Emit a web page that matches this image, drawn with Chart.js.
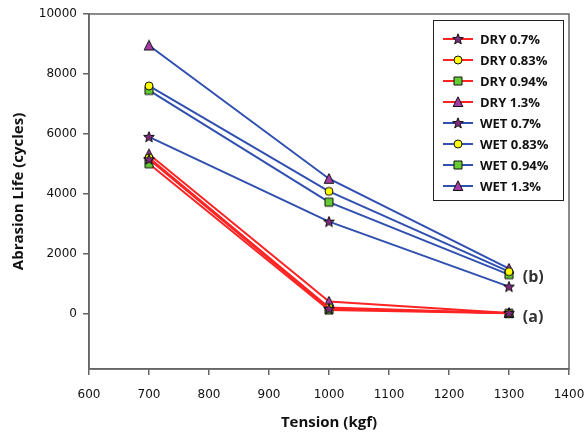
<!DOCTYPE html>
<html>
<head>
<meta charset="utf-8">
<script src="https://cdn.jsdelivr.net/npm/chart.js@4/dist/chart.umd.min.js"></script>
<style>
    html, body { margin: 0; padding: 0; background: #fff; }
</style>
</head>
<body>
<canvas id="abrasionChart" width="587" height="436"></canvas>
<script>
// ========= data =========
const tensions = [700, 1000, 1300];

const seriesLabels = [
    "DRY 0.7%", "DRY 0.83%", "DRY 0.94%", "DRY 1.3%",
    "WET 0.7%", "WET 0.83%", "WET 0.94%", "WET 1.3%"
];

const dry07  = [5150, 160, 20];
const dry083 = [5200, 200, 10];
const dry094 = [5000, 120, 10];
const dry13  = [5320, 400, 20];

const wet07  = [5900, 3070, 900];
const wet083 = [7600, 4080, 1400];
const wet094 = [7450, 3720, 1300];
const wet13  = [8950, 4500, 1500];

const seriesValues = [dry07, dry083, dry094, dry13, wet07, wet083, wet094, wet13];

const yTickValues = [0, 2000, 4000, 6000, 8000, 10000];

const noteLabels = ["(b)", "(a)"];
const noteX      = [1323, 1323];
const noteY      = [1220, -120];

// ========= marker images =========
function makeMarker(kind) {
    const c = document.createElement("canvas");
    c.width = 12;
    c.height = 12;
    const g = c.getContext("2d");
    g.lineWidth = 1;
    g.strokeStyle = "#111";
    g.beginPath();
    if (kind === "star") {
        for (let i = 0; i < 10; i++) {
            const r = i % 2 === 0 ? 5.6 : 2.4;
            const a = -Math.PI / 2 + i * Math.PI / 5;
            const px = 6 + r * Math.cos(a);
            const py = 6.4 + r * Math.sin(a);
            if (i === 0) g.moveTo(px, py); else g.lineTo(px, py);
        }
        g.closePath();
        g.fillStyle = "#7a2a7a";
    } else if (kind === "circle") {
        g.arc(6, 6, 4, 0, Math.PI * 2);
        g.fillStyle = "#ffff00";
    } else if (kind === "square") {
        g.rect(2, 2, 8, 8);
        g.fillStyle = "#66cc33";
    } else {
        g.moveTo(6, 0.8);
        g.lineTo(10.8, 10.5);
        g.lineTo(1.2, 10.5);
        g.closePath();
        g.fillStyle = "#a33ca3";
    }
    g.fill();
    g.stroke();
    return c;
}

const markers = {
    star: makeMarker("star"),
    circle: makeMarker("circle"),
    square: makeMarker("square"),
    triangle: makeMarker("triangle")
};
const markerOrder = ["star", "circle", "square", "triangle"];

const RED  = "#ff2424";
const BLUE = "#3050b0";

const datasets = seriesValues.map((vals, i) => ({
    label: seriesLabels[i],
    data: vals.map((v, k) => ({ x: tensions[k], y: v })),
    borderColor: i < 4 ? RED : BLUE,
    borderWidth: 2,
    pointStyle: markers[markerOrder[i % 4]],
    pointRadius: 6,
    tension: 0
}));

// ========= plugins: frame, legend box, notes =========
const framePlugin = {
    id: "frame",
    beforeDatasetsDraw(chart) {
        const a = chart.chartArea;
        const ctx = chart.ctx;
        ctx.save();
        ctx.strokeStyle = "#666";
        ctx.lineWidth = 1.5;
        ctx.strokeRect(a.left, a.top, a.right - a.left, a.bottom - a.top);
        ctx.restore();
    }
};

const legendBoxPlugin = {
    id: "legendBox",
    afterDraw(chart) {
        const ctx = chart.ctx;
        ctx.save();
        ctx.fillStyle = "#fff";
        ctx.fillRect(433, 20, 130, 180);
        ctx.strokeStyle = "#222";
        ctx.lineWidth = 1;
        ctx.strokeRect(433.5, 20.5, 130, 180);

        chart.data.datasets.forEach((ds, i) => {
            const y = 39 + i * 21;
            ctx.strokeStyle = ds.borderColor;
            ctx.lineWidth = 2;
            ctx.beginPath();
            ctx.moveTo(443, y);
            ctx.lineTo(473, y);
            ctx.stroke();
            ctx.drawImage(ds.pointStyle, 452, y - 6);
            ctx.fillStyle = "#111";
            ctx.font = "bold 13px 'Open Sans'";
            ctx.textBaseline = "middle";
            ctx.textAlign = "left";
            ctx.fillText(ds.label, 480, y + 1);
        });
        ctx.restore();
    }
};

const notesPlugin = {
    id: "notes",
    afterDraw(chart) {
        const ctx = chart.ctx;
        const xs = chart.scales.x;
        const ys = chart.scales.y;
        ctx.save();
        ctx.fillStyle = "#333";
        ctx.font = "bold 16px 'Open Sans'";
        ctx.textBaseline = "middle";
        ctx.textAlign = "left";
        noteLabels.forEach((t, i) => {
            ctx.fillText(t, xs.getPixelForValue(noteX[i]), ys.getPixelForValue(noteY[i]));
        });
        ctx.restore();
    }
};

// ========= chart =========
const ctx = document.getElementById("abrasionChart");

new Chart(ctx, {
    type: "line",
    data: { datasets: datasets },
    options: {
        responsive: false,
        animation: false,
        layout: { padding: { top: 14, right: 18, left: 0, bottom: 0 } },
        plugins: {
            legend: { display: false },
            tooltip: { enabled: false }
        },
        scales: {
            x: {
                type: "linear",
                min: 600,
                max: 1400,
                ticks: {
                    stepSize: 100,
                    color: "#111",
                    font: { family: "'DejaVu Sans'", size: 12 },
                    padding: 13,
                    maxRotation: 0,
                    callback: (v) => String(v)
                },
                grid: { drawOnChartArea: false, drawTicks: true, tickLength: 6, color: "#666", lineWidth: 1.5 },
                border: { display: true, color: "#666", width: 1.5 },
                title: {
                    display: true,
                    text: "Tension (kgf)",
                    color: "#111",
                    font: { family: "'Open Sans'", size: 15, weight: "bold" },
                    padding: { top: 0, bottom: 4 }
                },
                afterFit(scale) {
                    scale.height = 67;
                    scale.paddingLeft = 0;
                    scale.paddingRight = 0;
                }
            },
            y: {
                type: "linear",
                min: -1850,
                max: 10000,
                afterBuildTicks(scale) {
                    scale.ticks = yTickValues.map(v => ({ value: v }));
                },
                ticks: {
                    color: "#111",
                    font: { family: "'DejaVu Sans'", size: 12 },
                    padding: 6,
                    callback: (v) => String(v)
                },
                grid: { drawOnChartArea: false, drawTicks: true, tickLength: 6, color: "#666", lineWidth: 1.5 },
                border: { display: true, color: "#666", width: 1.5 },
                title: {
                    display: true,
                    text: "Abrasion Life (cycles)",
                    color: "#111",
                    font: { family: "'Open Sans'", size: 15, weight: "bold" },
                    padding: { top: 10, bottom: 0 }
                },
                afterFit(scale) {
                    scale.width = 89;
                    scale.paddingTop = 0;
                    scale.paddingBottom = 0;
                }
            }
        }
    },
    plugins: [framePlugin, legendBoxPlugin, notesPlugin]
});
</script>
</body>
</html>
